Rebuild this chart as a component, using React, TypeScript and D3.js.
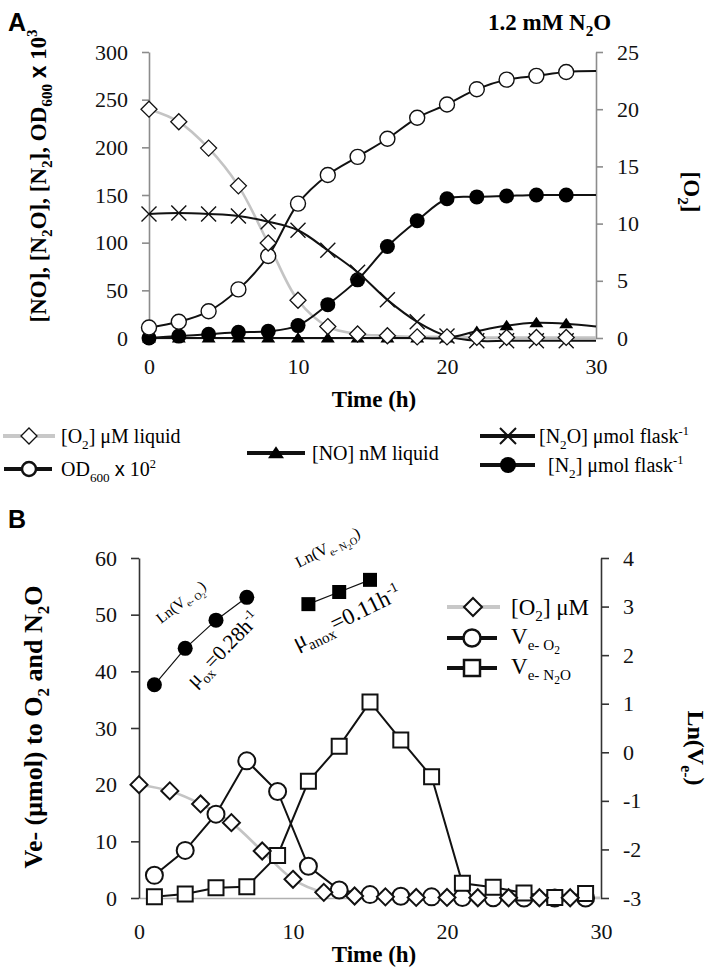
import React, { useEffect, useRef } from 'react';
import * as d3 from 'd3';

const W = 708;
const H = 972;
const SERIF = 'Liberation Serif, Times New Roman, serif';
const SANS = 'Liberation Sans, Arial, sans-serif';

// ---------- Panel A data ----------
const timeA = [0, 2, 4, 6, 8, 10, 12, 14, 16, 18, 20, 22, 24, 26, 28, 30];
const o2uM = [20, 18.9, 16.6, 13.3, 8.3, 3.3, 1.0, 0.35, 0.2, 0.1, 0.1, 0.05, 0.05, 0.05, 0.05, 0.05];
const od600 = [11, 17, 28, 51, 86, 141, 171, 190, 209, 231, 245, 261, 271, 275, 279, 280];
const n2oFlask = [130, 131, 130, 128, 122, 113, 92, 69, 40, 17, 2, -3, -3, -3, -3, -3];
const noLiquid = [0, 0, 0, 0, 0, 0, 0, 0, 0, 0, 0, 7, 13, 16, 15, 12];
const n2Flask = [0, 2, 4, 6, 7, 13, 35, 61, 96, 123, 146, 148, 149, 150, 150, 150];
const lastMarkerTime = 28;

const ticksAL = [0, 50, 100, 150, 200, 250, 300];
const ticksAR = [0, 5, 10, 15, 20, 25];
const ticksX = [0, 10, 20, 30];

// ---------- Panel B data ----------
const timeVe = [1, 3, 5, 7, 9, 11, 13, 15, 17, 19, 21, 23, 25, 27, 29];
const veO2 = [4.0, 8.4, 14.8, 24.2, 18.8, 5.6, 1.4, 0.6, 0.3, 0.2, 0.1, 0.05, 0, 0, 0];
const veN2O = [0.2, 0.7, 1.8, 2.0, 7.5, 20.6, 26.8, 34.6, 27.9, 21.4, 2.6, 1.9, 0.9, 0.1, 0.8];
const lnTimeO2 = [1, 3, 5, 7];
const lnVeO2 = [1.39, 2.14, 2.72, 3.19];
const lnTimeN2O = [11, 13, 15];
const lnVeN2O = [3.05, 3.3, 3.55];

const ticksBL = [0, 10, 20, 30, 40, 50, 60];
const ticksBR = [-3, -2, -1, 0, 1, 2, 3, 4];

type Part = [string, string?, string?];

function rich(sel: any, parts: Part[], size: number) {
  let cur = 0;
  parts.forEach(([t, k = 'n', fam]) => {
    let shift = 0;
    let fs = size;
    if (k === 'sub') { shift = 0.28 * size; fs = 0.66 * size; }
    if (k === 'sub2') { shift = 0.45 * size; fs = 0.5 * size; }
    if (k === 'sup') { shift = -0.4 * size; fs = 0.62 * size; }
    sel.append('tspan').attr('dy', shift - cur).attr('font-size', fs)
      .attr('font-family', fam || SERIF).text(t);
    cur = shift;
  });
}

function diamondPath(r: number) {
  return `M0,${-r}L${r},0L0,${r}L${-r},0Z`;
}
function xPath(r: number) {
  return `M${-r},${-r}L${r},${r}M${-r},${r}L${r},${-r}`;
}
function triPath(s: number) {
  return `M0,${-s * 0.85}L${s},${s * 0.65}L${-s},${s * 0.65}Z`;
}
function squarePath(s: number) {
  return `M${-s},${-s}H${s}V${s}H${-s}Z`;
}

export default function App() {
  const ref = useRef<SVGSVGElement>(null);

  useEffect(() => {
    const svg = d3.select(ref.current);
    svg.selectAll('*').remove();
    svg.append('rect').attr('width', W).attr('height', H).attr('fill', '#fff');
    const root = svg.append('g').attr('font-family', SERIF).style('white-space', 'pre');

    const styleAxis = (g: any, color: string) => {
      g.attr('font-family', SERIF).attr('font-size', 22);
      g.select('.domain').attr('stroke', color).attr('stroke-width', 1.6);
      g.selectAll('.tick line').attr('stroke', color).attr('stroke-width', 1.6);
      g.selectAll('.tick text').attr('fill', '#111').attr('font-family', SERIF)
        .attr('font-size', 22).style('font-family', SERIF);
    };
    const fmt = (d: any) => String(d).replace('−', '-');

    // ================= PANEL A =================
    const xA = d3.scaleLinear().domain([0, 30]).range([149, 596]);
    const yAL = d3.scaleLinear().domain([0, 300]).range([338, 52]);
    const yAR = d3.scaleLinear().domain([0, 25]).range([338, 52]);
    const gA = root.append('g');

    const axAx = gA.append('g').attr('transform', `translate(0,${yAL(0)})`)
      .call(d3.axisBottom(xA).tickValues(ticksX).tickFormat(fmt).tickSize(0).tickPadding(20));
    styleAxis(axAx, '#a0a0a0');
    const axAL = gA.append('g').attr('transform', `translate(${xA(0)},0)`)
      .call(d3.axisLeft(yAL).tickValues(ticksAL).tickFormat(fmt).tickSize(7).tickSizeOuter(0).tickPadding(14));
    styleAxis(axAL, '#8c8c8c');
    const axAR = gA.append('g').attr('transform', `translate(${xA(30)},0)`)
      .call(d3.axisRight(yAR).tickValues(ticksAR).tickFormat(fmt).tickSize(7).tickSizeOuter(0).tickPadding(14));
    styleAxis(axAR, '#8c8c8c');

    const idxA = timeA.map((_, i) => i);
    const mkIdxA = idxA.filter((i) => timeA[i] <= lastMarkerTime);
    const smooth = d3.curveCatmullRom.alpha(0.5);
    const lineOf = (vals: number[], y: any, curve: any) =>
      d3.line<number>().x((i) => xA(timeA[i])).y((i) => y(vals[i])).curve(curve);

    // O2 grey line
    gA.append('path').attr('d', lineOf(o2uM, yAR, smooth)(idxA))
      .attr('fill', 'none').attr('stroke', '#c4c4c4').attr('stroke-width', 2.6);
    // NO
    gA.append('path').attr('d', lineOf(noLiquid, yAL, smooth)(idxA))
      .attr('fill', 'none').attr('stroke', '#111').attr('stroke-width', 2);
    gA.append('g').selectAll('path').data(mkIdxA).join('path')
      .attr('transform', (i) => `translate(${xA(timeA[i])},${yAL(noLiquid[i])})`)
      .attr('d', triPath(7)).attr('fill', '#000');
    // N2
    gA.append('path').attr('d', lineOf(n2Flask, yAL, smooth)(idxA))
      .attr('fill', 'none').attr('stroke', '#111').attr('stroke-width', 2);
    gA.append('g').selectAll('circle').data(mkIdxA).join('circle')
      .attr('cx', (i) => xA(timeA[i])).attr('cy', (i) => yAL(n2Flask[i])).attr('r', 7.5)
      .attr('fill', '#000');
    // N2O
    gA.append('path').attr('d', lineOf(n2oFlask, yAL, smooth)(idxA))
      .attr('fill', 'none').attr('stroke', '#111').attr('stroke-width', 2);
    gA.append('g').selectAll('path').data(mkIdxA).join('path')
      .attr('transform', (i) => `translate(${xA(timeA[i])},${yAL(n2oFlask[i])})`)
      .attr('d', xPath(7.5)).attr('fill', 'none').attr('stroke', '#111').attr('stroke-width', 1.4);
    // OD
    gA.append('path').attr('d', lineOf(od600, yAL, smooth)(idxA))
      .attr('fill', 'none').attr('stroke', '#111').attr('stroke-width', 2);
    gA.append('g').selectAll('circle').data(mkIdxA).join('circle')
      .attr('cx', (i) => xA(timeA[i])).attr('cy', (i) => yAL(od600[i])).attr('r', 7.5)
      .attr('fill', '#fff').attr('stroke', '#111').attr('stroke-width', 1.4);
    // O2 diamonds
    gA.append('g').selectAll('path').data(mkIdxA).join('path')
      .attr('transform', (i) => `translate(${xA(timeA[i])},${yAR(o2uM[i])})`)
      .attr('d', diamondPath(8)).attr('fill', '#fff').attr('stroke', '#111').attr('stroke-width', 1.3);

    // Panel A texts
    root.append('text').attr('x', 8).attr('y', 31).attr('font-family', SANS)
      .attr('font-weight', 'bold').attr('font-size', 25).text('A');
    const tA = root.append('text').attr('x', 488).attr('y', 30).attr('font-weight', 'bold');
    rich(tA, [['1.2 mM N'], ['2', 'sub'], ['O']], 23);
    const ylA = root.append('text').attr('transform', 'translate(46,176) rotate(-90)')
      .attr('text-anchor', 'middle').attr('font-weight', 'bold');
    rich(ylA, [['[NO], [N'], ['2', 'sub'], ['O], [N'], ['2', 'sub'], ['], OD'], ['600', 'sub'], [' '], ['x', 'n', SANS], [' 10'], ['3', 'sup']], 23);
    const yrA = root.append('text').attr('transform', 'translate(684,192) rotate(90)')
      .attr('text-anchor', 'middle').attr('font-weight', 'bold');
    rich(yrA, [['[O'], ['2', 'sub'], [']']], 23);
    root.append('text').attr('x', 374).attr('y', 407).attr('text-anchor', 'middle')
      .attr('font-weight', 'bold').attr('font-size', 23).text('Time (h)');

    // Legend A
    const lgA = root.append('g');
    const legLine = (x1: number, x2: number, y: number, color: string) =>
      lgA.append('line').attr('x1', x1).attr('x2', x2).attr('y1', y).attr('y2', y)
        .attr('stroke', color).attr('stroke-width', 4);
    legLine(3, 55, 436, '#c8c8c8');
    lgA.append('path').attr('transform', 'translate(29,436)').attr('d', diamondPath(8))
      .attr('fill', '#fff').attr('stroke', '#111').attr('stroke-width', 1.3);
    rich(lgA.append('text').attr('x', 61).attr('y', 443), [['[O'], ['2', 'sub'], ['] μM liquid']], 20);

    legLine(4, 52, 469, '#111');
    lgA.append('circle').attr('cx', 29).attr('cy', 469).attr('r', 7).attr('fill', '#fff')
      .attr('stroke', '#111').attr('stroke-width', 2.5);
    rich(lgA.append('text').attr('x', 61).attr('y', 476), [['OD'], ['600', 'sub'], [' '], ['x', 'n', SANS], [' 10'], ['2', 'sup']], 20);

    legLine(247, 305, 453, '#111');
    lgA.append('path').attr('transform', 'translate(276,453)').attr('d', triPath(8)).attr('fill', '#000');
    rich(lgA.append('text').attr('x', 312).attr('y', 460), [['[NO] nM liquid']], 20);

    legLine(480, 535, 436, '#111');
    lgA.append('path').attr('transform', 'translate(508,436)').attr('d', xPath(8))
      .attr('stroke', '#111').attr('stroke-width', 2).attr('fill', 'none');
    rich(lgA.append('text').attr('x', 539).attr('y', 443), [['[N'], ['2', 'sub'], ['O] μmol flask'], ['-1', 'sup']], 20);

    legLine(480, 535, 465, '#111');
    lgA.append('circle').attr('cx', 508).attr('cy', 465).attr('r', 8).attr('fill', '#000');
    rich(lgA.append('text').attr('x', 548).attr('y', 472), [['[N'], ['2', 'sub'], ['] μmol flask'], ['-1', 'sup']], 20);

    // ================= PANEL B =================
    const xB = d3.scaleLinear().domain([0, 30]).range([139, 601]);
    const yBL = d3.scaleLinear().domain([0, 60]).range([898, 558]);
    const yBR = d3.scaleLinear().domain([-3, 4]).range([898, 558]);
    const gB = root.append('g');

    const axBx = gB.append('g').attr('transform', `translate(0,${yBL(0)})`)
      .call(d3.axisBottom(xB).tickValues(ticksX).tickFormat(fmt).tickSize(0).tickPadding(25));
    styleAxis(axBx, '#b0b0b0');
    const axBL = gB.append('g').attr('transform', `translate(${xB(0)},0)`)
      .call(d3.axisLeft(yBL).tickValues(ticksBL).tickFormat(fmt).tickSize(8).tickSizeOuter(0).tickPadding(14));
    styleAxis(axBL, '#333');
    const axBR = gB.append('g').attr('transform', `translate(${xB(30)},0)`)
      .call(d3.axisRight(yBR).tickValues(ticksBR).tickFormat(fmt).tickSize(8).tickSizeOuter(0).tickPadding(14));
    styleAxis(axBR, '#333');

    // O2 grey line
    const lineB = d3.line<number>().x((i) => xB(timeA[i])).y((i) => yBL(o2uM[i])).curve(smooth);
    gB.append('path').attr('d', lineB(idxA)).attr('fill', 'none')
      .attr('stroke', '#c4c4c4').attr('stroke-width', 2.6);

    const idxVe = timeVe.map((_, i) => i);
    // Ve O2
    const lineVeO2 = d3.line<number>().x((i) => xB(timeVe[i])).y((i) => yBL(veO2[i]));
    gB.append('path').attr('d', lineVeO2(idxVe)).attr('fill', 'none')
      .attr('stroke', '#111').attr('stroke-width', 2);
    gB.append('g').selectAll('circle').data(idxVe).join('circle')
      .attr('cx', (i) => xB(timeVe[i])).attr('cy', (i) => yBL(veO2[i])).attr('r', 8.5)
      .attr('fill', '#fff').attr('stroke', '#111').attr('stroke-width', 2);
    // Ve N2O
    const lineVeN2O = d3.line<number>().x((i) => xB(timeVe[i])).y((i) => yBL(veN2O[i]));
    gB.append('path').attr('d', lineVeN2O(idxVe)).attr('fill', 'none')
      .attr('stroke', '#111').attr('stroke-width', 2);
    gB.append('g').selectAll('path').data(idxVe).join('path')
      .attr('transform', (i) => `translate(${xB(timeVe[i])},${yBL(veN2O[i])})`)
      .attr('d', squarePath(7.5)).attr('fill', '#fff').attr('stroke', '#111').attr('stroke-width', 2);
    // O2 diamonds
    gB.append('g').selectAll('path').data(mkIdxA).join('path')
      .attr('transform', (i) => `translate(${xB(timeA[i])},${yBL(o2uM[i])})`)
      .attr('d', diamondPath(8.5)).attr('fill', '#fff').attr('stroke', '#111').attr('stroke-width', 2);

    // Ln series
    const iLnO2 = lnTimeO2.map((_, i) => i);
    gB.append('path').attr('d', d3.line<number>().x((i) => xB(lnTimeO2[i])).y((i) => yBR(lnVeO2[i]))(iLnO2))
      .attr('fill', 'none').attr('stroke', '#111').attr('stroke-width', 1.2);
    gB.append('g').selectAll('circle').data(iLnO2).join('circle')
      .attr('cx', (i) => xB(lnTimeO2[i])).attr('cy', (i) => yBR(lnVeO2[i])).attr('r', 7.5).attr('fill', '#000');
    const iLnN2O = lnTimeN2O.map((_, i) => i);
    gB.append('path').attr('d', d3.line<number>().x((i) => xB(lnTimeN2O[i])).y((i) => yBR(lnVeN2O[i]))(iLnN2O))
      .attr('fill', 'none').attr('stroke', '#111').attr('stroke-width', 1.2);
    gB.append('g').selectAll('path').data(iLnN2O).join('path')
      .attr('transform', (i) => `translate(${xB(lnTimeN2O[i])},${yBR(lnVeN2O[i])})`)
      .attr('d', squarePath(7)).attr('fill', '#000');

    // Annotations
    const ann = (cx: number, cy: number, ang: number, parts: Part[], size: number) =>
      rich(root.append('text').attr('transform', `translate(${cx},${cy}) rotate(${ang})`)
        .attr('text-anchor', 'middle'), parts, size);
    ann(184, 606, -38, [['Ln(V'], ['e- O', 'sub'], ['2', 'sub2'], [')']], 15);
    ann(228, 654, -46, [['μ'], ['ox', 'sub'], ['=0.28h'], ['-1', 'sup']], 21);
    ann(330, 552, -27, [['Ln(V'], ['e- N', 'sub'], ['2', 'sub2'], ['O', 'sub'], [')']], 16);
    ann(350, 624, -26, [['μ'], ['anox', 'sub'], ['=0.11h'], ['-1', 'sup']], 23);

    // Panel B texts
    root.append('text').attr('x', 8).attr('y', 528).attr('font-family', SANS)
      .attr('font-weight', 'bold').attr('font-size', 25).text('B');
    const ylB = root.append('text').attr('transform', 'translate(42,727) rotate(-90)')
      .attr('text-anchor', 'middle').attr('font-weight', 'bold');
    rich(ylB, [['Ve- (μmol) to O'], ['2', 'sub'], [' and N'], ['2', 'sub'], ['O']], 26);
    const yrB = root.append('text').attr('transform', 'translate(688,748) rotate(90)')
      .attr('text-anchor', 'middle').attr('font-weight', 'bold');
    rich(yrB, [['Ln(V'], ['e-', 'sub'], [')']], 24);
    root.append('text').attr('x', 374).attr('y', 962).attr('text-anchor', 'middle')
      .attr('font-weight', 'bold').attr('font-size', 23).text('Time (h)');

    // Legend B
    const lgB = root.append('g');
    const legLineB = (x1: number, x2: number, y: number, color: string) =>
      lgB.append('line').attr('x1', x1).attr('x2', x2).attr('y1', y).attr('y2', y)
        .attr('stroke', color).attr('stroke-width', 4);
    legLineB(447, 500, 607, '#c8c8c8');
    lgB.append('path').attr('transform', 'translate(473,607)').attr('d', diamondPath(9))
      .attr('fill', '#fff').attr('stroke', '#111').attr('stroke-width', 2);
    rich(lgB.append('text').attr('x', 511).attr('y', 615), [['[O'], ['2', 'sub'], ['] μM']], 23);
    legLineB(447, 497, 638, '#111');
    lgB.append('circle').attr('cx', 472).attr('cy', 638).attr('r', 8.5).attr('fill', '#fff')
      .attr('stroke', '#111').attr('stroke-width', 2.5);
    rich(lgB.append('text').attr('x', 511).attr('y', 644), [['V'], ['e- O', 'sub'], ['2', 'sub2']], 23);
    legLineB(447, 497, 668, '#111');
    lgB.append('path').attr('transform', 'translate(472,668)').attr('d', squarePath(8))
      .attr('fill', '#fff').attr('stroke', '#111').attr('stroke-width', 2.5);
    rich(lgB.append('text').attr('x', 511).attr('y', 674), [['V'], ['e- N', 'sub'], ['2', 'sub2'], ['O', 'sub']], 23);
  }, []);

  return (
    <svg
      ref={ref}
      width={W}
      height={H}
      style={{ position: 'absolute', left: 0, top: 0, display: 'block', background: '#fff' }}
    />
  );
}
